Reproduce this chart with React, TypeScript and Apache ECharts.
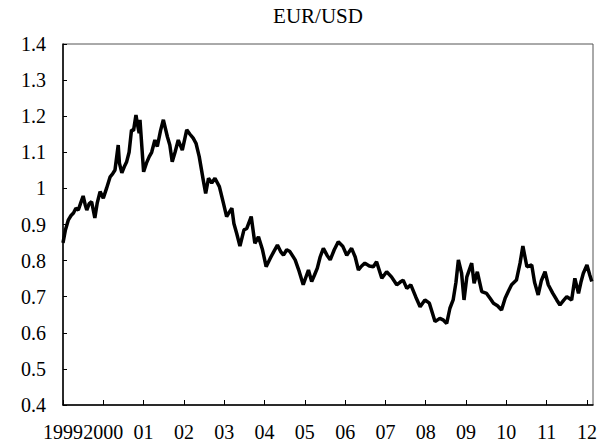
import React, { useEffect, useRef } from "react";
import * as echarts from "echarts";

const title = "EUR/USD";
const years: number[] = [
  1999.0, 1999.06, 1999.13, 1999.2, 1999.26, 1999.32, 1999.38, 1999.44, 1999.5, 1999.55, 1999.59, 1999.65, 1999.71, 1999.79, 1999.85, 1999.92, 2000.0,
  2000.08, 2000.17, 2000.23, 2000.29, 2000.37, 2000.4, 2000.46, 2000.52, 2000.58, 2000.64, 2000.7, 2000.75, 2000.81, 2000.86, 2000.89, 2000.91, 2001.0,
  2001.07, 2001.14, 2001.2, 2001.28, 2001.34, 2001.42, 2001.49, 2001.59, 2001.65, 2001.71, 2001.78, 2001.86, 2001.96, 2002.07, 2002.15, 2002.23,
  2002.3, 2002.38, 2002.48, 2002.54, 2002.61, 2002.69, 2002.77, 2002.88, 2002.98, 2003.06, 2003.13, 2003.19, 2003.24, 2003.31,
  2003.39, 2003.49, 2003.56, 2003.67, 2003.76, 2003.85, 2003.95, 2004.04, 2004.14, 2004.23, 2004.32, 2004.4, 2004.47,
  2004.55, 2004.63, 2004.76, 2004.86, 2004.96, 2005.09, 2005.17, 2005.24, 2005.31, 2005.38, 2005.46, 2005.55, 2005.63, 2005.73, 2005.83, 2005.94, 2006.04,
  2006.16, 2006.25, 2006.33, 2006.41, 2006.49, 2006.6, 2006.7, 2006.78, 2006.91, 2007.03, 2007.15, 2007.28, 2007.36, 2007.44, 2007.53,
  2007.63, 2007.75, 2007.86, 2007.98, 2008.09, 2008.23, 2008.35, 2008.44, 2008.52, 2008.6, 2008.68, 2008.75, 2008.81,
  2008.89, 2008.95, 2009.02, 2009.14, 2009.2, 2009.28, 2009.39, 2009.51, 2009.6, 2009.68, 2009.78, 2009.88,
  2009.97, 2010.05, 2010.13, 2010.25, 2010.34, 2010.41, 2010.51, 2010.63, 2010.7, 2010.79, 2010.87, 2010.96, 2011.04,
  2011.15, 2011.25, 2011.33, 2011.42, 2011.5, 2011.62, 2011.7, 2011.79, 2011.85, 2011.91, 2012.0, 2012.07, 2012.12,
];
const rates: number[] = [
  0.849, 0.885, 0.912, 0.925, 0.932, 0.945, 0.94, 0.96, 0.979, 0.955, 0.94, 0.958, 0.963, 0.918, 0.96, 0.991, 0.973,
  1.0, 1.032, 1.04, 1.051, 1.12, 1.07, 1.043, 1.06, 1.074, 1.1, 1.162, 1.16, 1.203, 1.17, 1.153, 1.19, 1.046,
  1.07, 1.088, 1.1, 1.134, 1.116, 1.16, 1.19, 1.143, 1.12, 1.074, 1.1, 1.134, 1.106, 1.162, 1.15, 1.139,
  1.125, 1.088, 1.023, 0.986, 1.028, 1.015, 1.028, 1.005, 0.959, 0.922, 0.935, 0.945, 0.903, 0.875,
  0.84, 0.885, 0.889, 0.922, 0.848, 0.866, 0.83, 0.783, 0.806, 0.825, 0.843, 0.825, 0.815,
  0.83, 0.825, 0.802, 0.77, 0.733, 0.774, 0.742, 0.76, 0.779, 0.81, 0.834, 0.815, 0.802, 0.83, 0.852, 0.84, 0.815,
  0.834, 0.81, 0.774, 0.785, 0.793, 0.785, 0.783, 0.797, 0.751, 0.769, 0.755, 0.733, 0.74, 0.746, 0.723,
  0.733, 0.7, 0.672, 0.691, 0.682, 0.631, 0.64, 0.635, 0.626, 0.668, 0.691, 0.74, 0.802,
  0.765, 0.691, 0.755, 0.793, 0.737, 0.769, 0.714, 0.709, 0.695, 0.682, 0.675, 0.663,
  0.696, 0.715, 0.733, 0.746, 0.793, 0.84, 0.783, 0.788, 0.74, 0.705, 0.745, 0.769, 0.733,
  0.71, 0.691, 0.677, 0.69, 0.7, 0.691, 0.751, 0.709, 0.74, 0.765, 0.788, 0.76, 0.742,
];
const yearLabels: Record<number, string> = {
  1999: "1999", 2000: "2000", 2001: "01", 2002: "02", 2003: "03", 2004: "04", 2005: "05",
  2006: "06", 2007: "07", 2008: "08", 2009: "09", 2010: "10", 2011: "11", 2012: "12",
};

const FONT = "Liberation Serif";

export default function App() {
  const ref = useRef<HTMLDivElement>(null);
  useEffect(() => {
    if (!ref.current) return;
    const chart = echarts.init(ref.current, null, { renderer: "svg" });
    chart.setOption({
      animation: false,
      backgroundColor: "#ffffff",
      textStyle: { fontFamily: FONT },
      title: {
        text: title,
        left: 313,
        top: 0,
        textAlign: "center",
        textStyle: { fontFamily: FONT, fontSize: 21, fontWeight: "normal", color: "#000" },
      },
      grid: {
        left: 63, right: 20, top: 44, bottom: 43,
        show: true, borderColor: "#555", borderWidth: 1, backgroundColor: "transparent",
      },
      xAxis: {
        type: "value",
        min: 1999,
        max: 2012.15,
        interval: 1,
        splitLine: { show: false },
        axisLine: { lineStyle: { color: "#000", width: 1.5 } },
        axisTick: { inside: true, length: 5, lineStyle: { color: "#000", width: 1 } },
        axisLabel: {
          fontFamily: FONT, fontSize: 20, color: "#000", margin: 17,
          showMaxLabel: false,
          formatter: (v: number) => yearLabels[Math.round(v * 100) / 100] ?? "",
        },
      },
      yAxis: {
        type: "value",
        min: 0.4,
        max: 1.4,
        interval: 0.1,
        splitLine: { show: false },
        axisLine: { show: true, lineStyle: { color: "#000", width: 1.5 } },
        axisTick: { show: true, inside: true, length: 4, lineStyle: { color: "#000", width: 1 } },
        axisLabel: {
          fontFamily: FONT, fontSize: 20, color: "#000", margin: 17,
          formatter: (v: number) => String(Math.round(v * 10) / 10),
        },
      },
      series: [
        {
          type: "line",
          data: years.map((y, i) => [y, rates[i]]),
          showSymbol: false,
          lineStyle: { color: "#000", width: 3.5 },
          silent: true,
        },
      ],
    });
    return () => chart.dispose();
  }, []);
  return (
    <div
      ref={ref}
      style={{ position: "fixed", left: 0, top: 0, width: 613, height: 448, background: "#fff" }}
    />
  );
}
